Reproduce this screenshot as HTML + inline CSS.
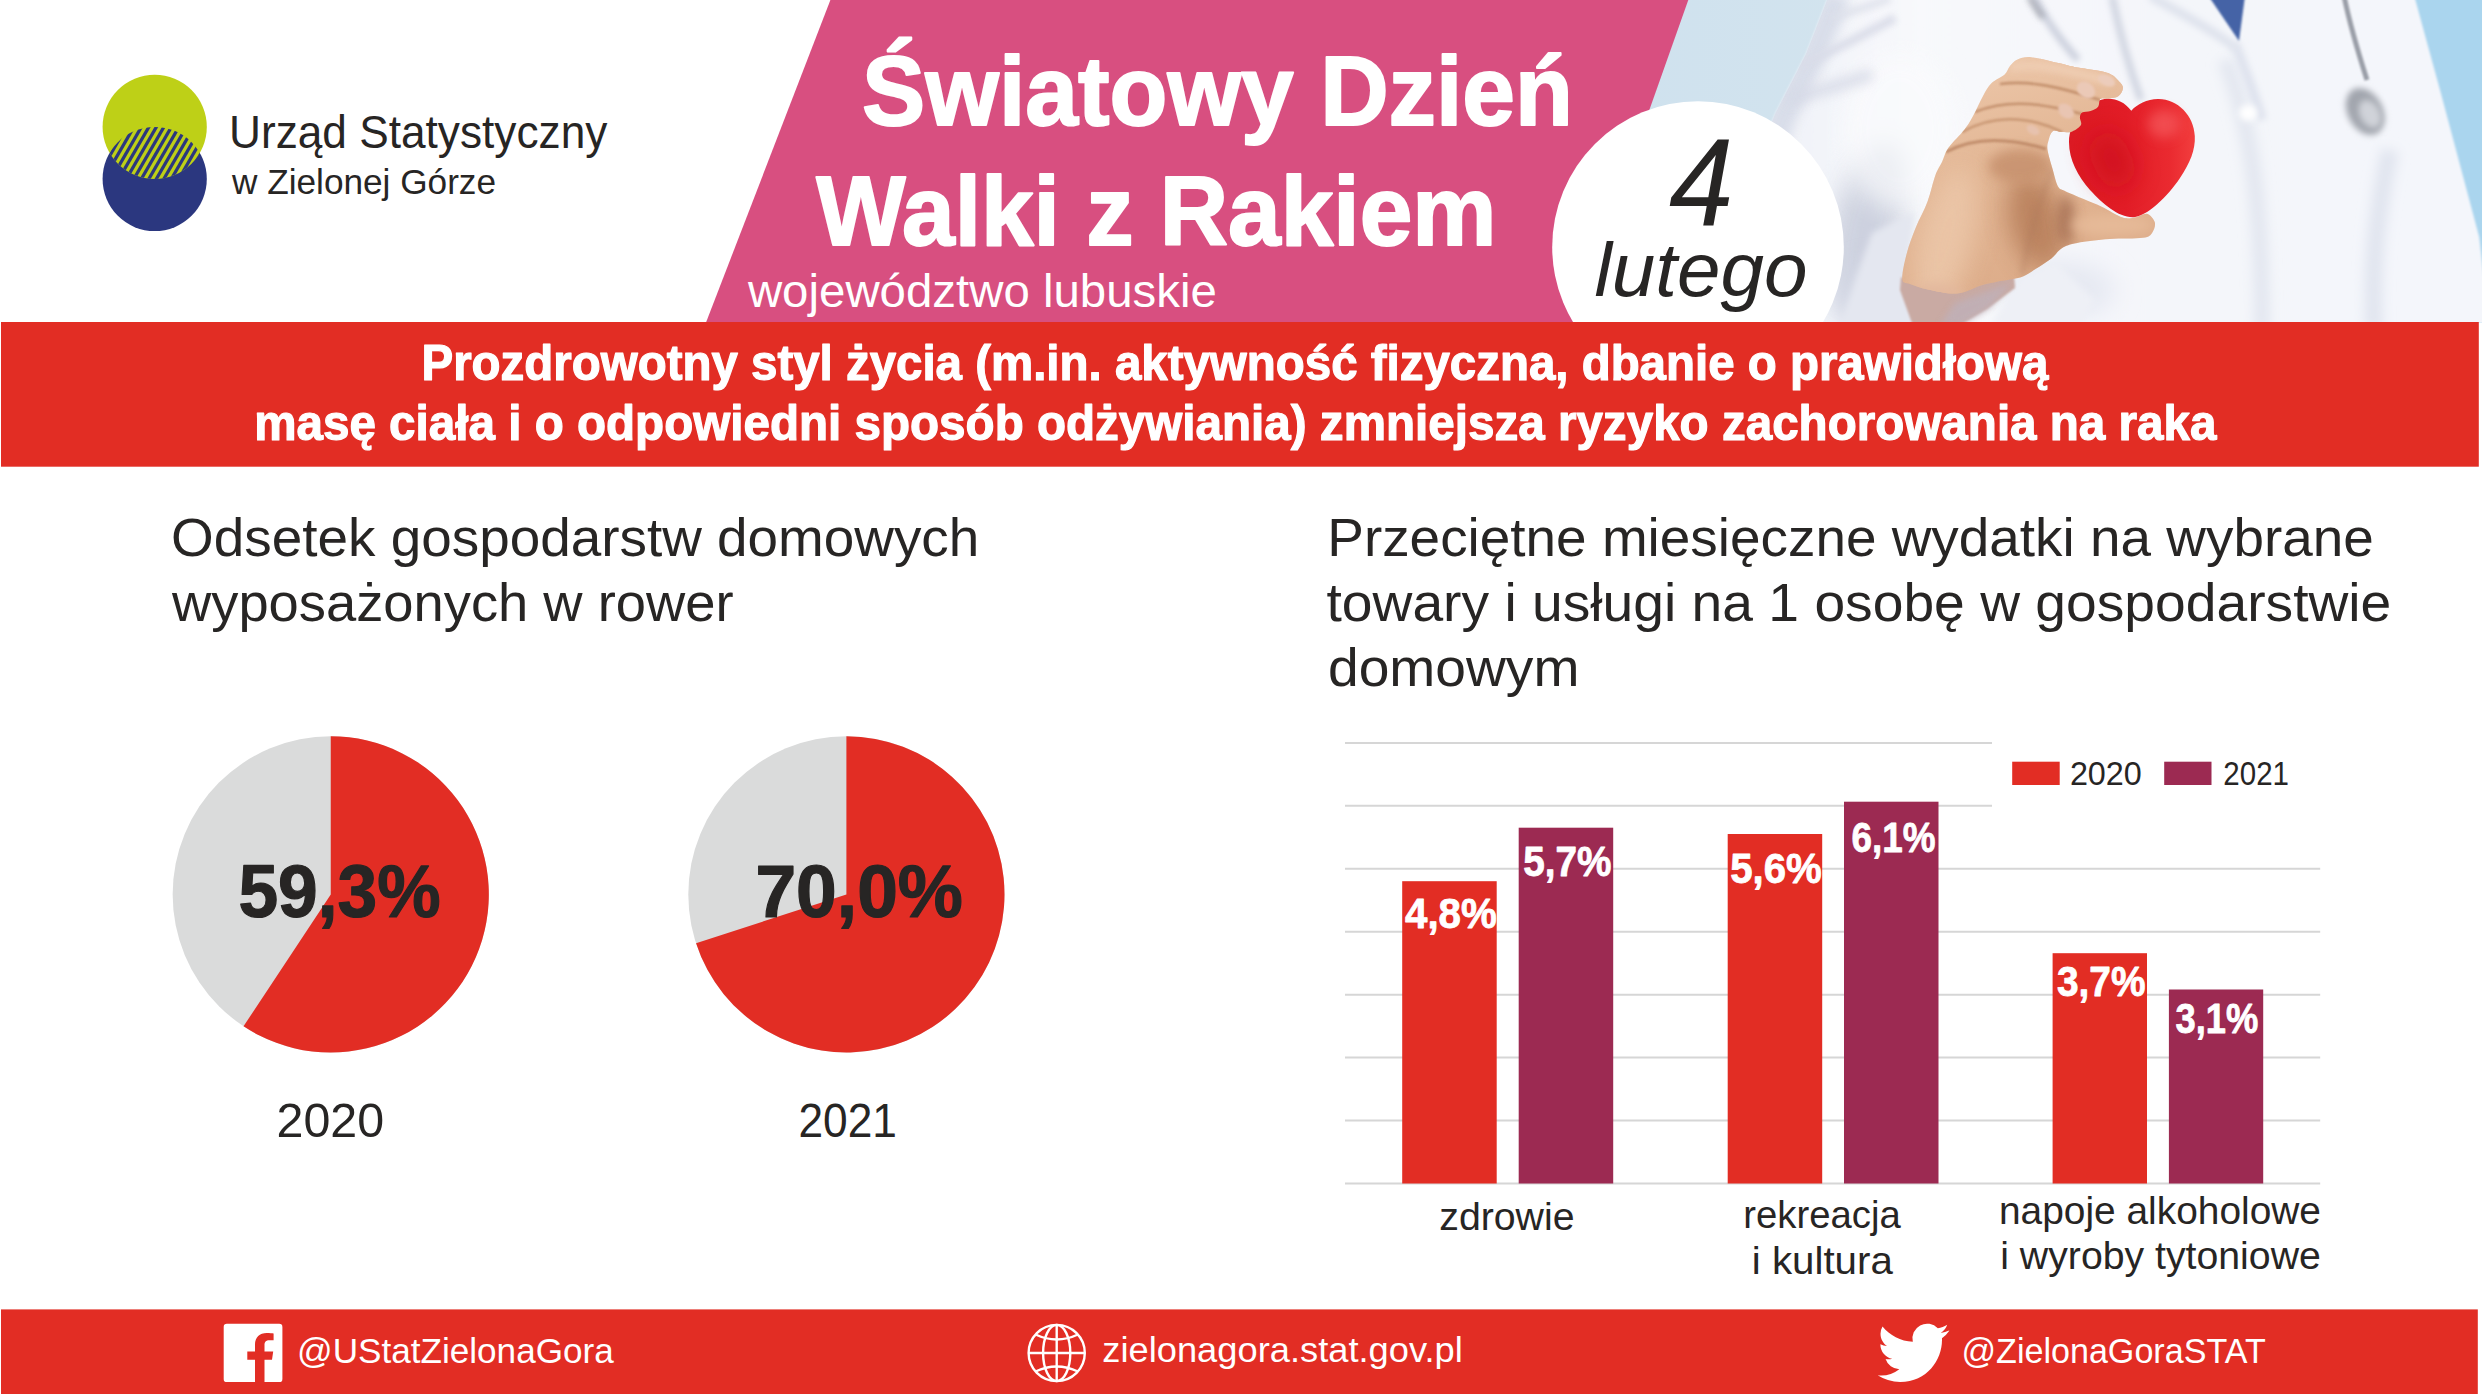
<!DOCTYPE html>
<html lang="pl">
<head>
<meta charset="utf-8">
<title>Światowy Dzień Walki z Rakiem – województwo lubuskie</title>
<style>
  html, body { margin: 0; padding: 0; background: #ffffff; }
  body { width: 2482px; height: 1394px; overflow: hidden; position: relative;
         font-family: "Liberation Sans", sans-serif; color: #272524; }
  #stage { position: absolute; left: 0; top: 0; width: 2482px; height: 1394px; display: block; }
  text { font-family: "Liberation Sans", sans-serif; }
  .b { font-weight: 700; }
  .tt { stroke: #ffffff; stroke-width: 2px; stroke-linejoin: round; }
  .t1 { stroke: #ffffff; stroke-width: 1.2px; stroke-linejoin: round; }
  .t08 { stroke: #ffffff; stroke-width: 0.8px; stroke-linejoin: round; }
  .td { stroke: #272524; stroke-width: 1.2px; stroke-linejoin: round; }
  .i { font-style: italic; }
  .w { fill: #ffffff; }
  .d { fill: #272524; }
</style>
</head>
<body>
<svg id="stage" width="2482" height="1394" viewBox="0 0 2482 1394">
  <defs>
    <clipPath id="hdrClip"><rect x="0" y="0" width="2482" height="322.5"/></clipPath>
    <clipPath id="lensClip"><circle cx="154.7" cy="126.9" r="52.1"/></clipPath>
    <clipPath id="lensClip2"><circle cx="154.7" cy="179" r="52.1"/></clipPath>
  </defs>

  <!-- ============ HEADER ============ -->
  <g id="header" clip-path="url(#hdrClip)">
    <!-- PHOTO-START -->
    <g id="photo">
      <defs>
        <linearGradient id="bgL" x1="1560" y1="0" x2="1900" y2="0" gradientUnits="userSpaceOnUse">
          <stop offset="0" stop-color="#cee1ee"/><stop offset="1" stop-color="#d3e4ee"/>
        </linearGradient>
        <linearGradient id="coatG" x1="1780" y1="0" x2="2480" y2="0" gradientUnits="userSpaceOnUse">
          <stop offset="0" stop-color="#f0f2f8"/><stop offset="0.2" stop-color="#f8f9fc"/>
          <stop offset="0.55" stop-color="#f4f6fa"/><stop offset="1" stop-color="#f4f6fb"/>
        </linearGradient>
        <linearGradient id="skinG" x1="1990" y1="60" x2="2060" y2="300" gradientUnits="userSpaceOnUse">
          <stop offset="0" stop-color="#ecc6a8"/><stop offset="0.45" stop-color="#e2b593"/><stop offset="1" stop-color="#dcab88"/>
        </linearGradient>
        <linearGradient id="heartG" x1="2069" y1="150" x2="2195" y2="150" gradientUnits="userSpaceOnUse">
          <stop offset="0" stop-color="#dc1a24"/><stop offset="0.45" stop-color="#e21d27"/><stop offset="0.8" stop-color="#ea2a30"/><stop offset="1" stop-color="#f23e3e"/>
        </linearGradient>
        <filter id="bl3" filterUnits="userSpaceOnUse" x="1500" y="-60" width="1060" height="460"><feGaussianBlur stdDeviation="3"/></filter>
        <filter id="bl6" filterUnits="userSpaceOnUse" x="1500" y="-60" width="1060" height="460"><feGaussianBlur stdDeviation="6"/></filter>
        <filter id="bl12" filterUnits="userSpaceOnUse" x="1500" y="-60" width="1060" height="460"><feGaussianBlur stdDeviation="12"/></filter>
        <filter id="bl1" filterUnits="userSpaceOnUse" x="1500" y="-60" width="1060" height="460"><feGaussianBlur stdDeviation="1.2"/></filter>
        <clipPath id="tipClip"><path d="M2040,50 L2135,50 L2135,100 L2104,101 L2101,109 L2092,114 L2084,116 L2084,124 L2076,133 L2040,135 Z"/></clipPath>
        <clipPath id="coatClip"><path d="M1829,-5 L1806,54 L1775,114 L1735,215 L1690,330 L2490,330 L2479.2,237 L2441.3,94.7 L2414,-5 Z"/></clipPath>
        <clipPath id="handClip"><path id="handPath" d="M2004.6,74.4 C2007.7,71.6 2007.8,68.5 2010.0,66.0 C2012.2,63.5 2013.9,60.9 2017.5,59.4 C2021.1,57.9 2024.6,56.6 2031.4,57.2 C2038.2,57.8 2051.1,61.5 2058.3,63.1 C2065.5,64.7 2067.3,65.6 2074.5,66.9 C2081.7,68.2 2095.2,69.9 2101.4,71.2 C2107.7,72.5 2109.3,73.6 2112.0,75.0 C2114.7,76.4 2115.7,77.8 2117.5,79.8 C2119.3,81.8 2122.7,84.6 2122.9,87.3 C2123.1,90.0 2121.1,94.0 2118.6,95.9 C2116.1,97.8 2111.1,98.0 2108.0,98.5 C2104.9,99.0 2102.0,97.4 2100.3,98.8 C2098.7,100.2 2099.7,104.7 2098.1,106.7 C2096.5,108.7 2093.3,110.0 2090.6,111.0 C2087.9,112.0 2083.8,111.5 2082.0,112.6 C2080.2,113.7 2080.1,115.4 2079.9,117.5 C2079.7,119.6 2082.2,122.7 2080.9,125.0 C2079.6,127.3 2075.5,130.2 2072.3,131.4 C2069.1,132.6 2064.8,132.1 2061.6,132.0 C2058.4,131.9 2055.2,129.7 2053.0,131.0 C2050.8,132.3 2049.6,136.8 2048.7,140.0 C2047.8,143.2 2046.9,145.1 2047.6,150.0 C2048.3,154.9 2051.0,163.4 2052.7,169.4 C2054.4,175.4 2056.0,182.7 2057.9,186.2 C2059.8,189.7 2059.7,188.3 2064.0,190.5 C2068.3,192.7 2077.4,196.4 2083.7,199.1 C2090.0,201.8 2095.3,203.7 2101.8,206.8 C2108.3,209.9 2117.0,215.8 2122.5,217.6 C2128.0,219.4 2130.9,218.1 2135.0,217.5 C2139.1,216.9 2143.7,213.0 2147.0,213.8 C2150.3,214.6 2153.9,219.2 2154.8,222.3 C2155.7,225.5 2154.1,230.1 2152.2,232.7 C2150.2,235.3 2150.2,236.7 2143.1,237.8 C2136.0,238.9 2120.6,238.2 2109.6,239.1 C2098.6,240.0 2085.3,241.5 2077.3,243.0 C2069.3,244.5 2066.1,245.6 2061.8,248.2 C2057.5,250.8 2055.7,255.1 2051.4,258.5 C2047.1,261.9 2040.6,265.8 2035.9,268.8 C2031.2,271.8 2026.9,274.9 2023.0,276.6 C2019.1,278.3 2017.2,278.2 2012.7,279.1 C2008.2,280.0 2001.3,280.9 1996.0,282.0 C1990.7,283.1 1987.5,283.6 1981.0,285.5 C1974.5,287.4 1965.8,292.8 1957.0,293.5 C1948.2,294.2 1935.8,291.1 1928.0,289.5 C1920.2,287.9 1914.3,285.7 1910.0,284.0 C1905.7,282.3 1902.8,284.2 1902.3,279.1 C1901.8,274.0 1904.5,261.9 1906.8,253.3 C1909.0,244.7 1912.3,236.1 1915.8,227.5 C1919.2,218.9 1924.3,210.3 1927.5,201.7 C1930.7,193.1 1932.8,182.5 1935.2,175.8 C1937.7,169.1 1940.0,166.3 1942.2,161.6 C1944.4,156.9 1944.8,153.0 1948.6,147.6 C1952.3,142.2 1960.6,134.7 1964.7,129.3 C1968.8,123.9 1970.4,120.9 1973.4,115.3 C1976.5,109.7 1980.0,101.3 1983.0,95.9 C1986.0,90.5 1988.0,86.6 1991.6,83.0 C1995.2,79.4 2001.5,77.2 2004.6,74.4 Z"/></clipPath>
      </defs>
      <!-- backdrop -->
      <rect x="1555" y="-2" width="930" height="330" fill="url(#bgL)"/>
      <rect x="2380" y="-2" width="110" height="330" fill="#aad5ee"/>
      <!-- doctor's coat -->
      <path d="M1829,-5 L1806,54 L1775,114 L1735,215 L1690,330 L2490,330 L2479.2,237 L2441.3,94.7 L2414,-5 Z" fill="url(#coatG)" filter="url(#bl1)"/>
      <g clip-path="url(#coatClip)">
        <!-- sleeve edge shadow -->
        <path d="M1838,-5 L1814,54 L1783,116 L1745,215 L1705,330" fill="none" stroke="#d5dae7" stroke-width="26" filter="url(#bl6)" opacity="0.9"/>
        <!-- shadow under the arm / near bubble -->
        <ellipse cx="1868" cy="225" rx="34" ry="85" fill="#c9cedc" filter="url(#bl12)" opacity="0.9" transform="rotate(14 1868 225)"/>
        <ellipse cx="1880" cy="300" rx="46" ry="36" fill="#d3d7e4" filter="url(#bl12)"/>
        <!-- sleeve highlights -->
        <ellipse cx="1900" cy="130" rx="60" ry="80" fill="#fafbfd" filter="url(#bl12)" opacity="0.7"/>
        <!-- sleeve folds -->
        <path d="M1800,66 C1830,52 1862,36 1895,18" fill="none" stroke="#d9dce8" stroke-width="9" filter="url(#bl3)" opacity="0.9"/>
        <path d="M1786,100 C1815,92 1845,84 1872,74" fill="none" stroke="#d6d9e6" stroke-width="11" filter="url(#bl6)" opacity="0.9"/>
        <path d="M1830,18 C1850,12 1872,6 1890,-2" fill="none" stroke="#dde0ea" stroke-width="8" filter="url(#bl3)" opacity="0.8"/>
        <!-- folds on body -->
        <path d="M2225,60 C2250,120 2262,200 2262,330" fill="none" stroke="#e3e7f0" stroke-width="16" filter="url(#bl6)"/>
        <path d="M2390,150 C2375,220 2372,270 2374,330" fill="none" stroke="#e1e5ef" stroke-width="18" filter="url(#bl6)"/>
        <path d="M2235,44 C2245,70 2255,95 2262,120" fill="none" stroke="#dfe3ee" stroke-width="10" filter="url(#bl3)"/>
        <ellipse cx="2060" cy="290" rx="55" ry="30" fill="#e6e9f2" filter="url(#bl12)"/>
        <!-- lapel / tube shadows -->
        <path d="M2034,-4 C2045,20 2062,42 2078,60" fill="none" stroke="#c9cedb" stroke-width="7" filter="url(#bl3)"/>
        <path d="M2029,-4 C2033,4 2038,11 2043,18" fill="none" stroke="#8f929b" stroke-width="5" filter="url(#bl3)" opacity="0.8"/>
        <path d="M2112,-4 C2120,35 2130,70 2141,100" fill="none" stroke="#cfd4e0" stroke-width="7" filter="url(#bl3)"/>
        <path d="M2150,-4 C2185,15 2215,32 2236,48" fill="none" stroke="#dfe3ed" stroke-width="9" filter="url(#bl3)"/>
        <!-- tie -->
        <path d="M2208.5,-4 L2245,-4 L2239,41 Z" fill="#4563a6" filter="url(#bl1)"/>
        <!-- stethoscope right tube + chest piece -->
        <path d="M2344,-4 C2350,25 2358,52 2367,80" fill="none" stroke="#9a9ea7" stroke-width="5" filter="url(#bl1)"/>
        <ellipse cx="2365" cy="111" rx="17.5" ry="25" fill="#a1a5ad" filter="url(#bl3)" transform="rotate(-28 2366 111)"/>
        <ellipse cx="2370" cy="114" rx="10" ry="15" fill="#d0d3d9" filter="url(#bl3)" transform="rotate(-28 2370 114)"/>
        <!-- buttons (very faint) -->
        <ellipse cx="2248" cy="113" rx="9" ry="8" fill="#ffffff" filter="url(#bl3)"/>
        <!-- cuff -->
        <path d="M1871.9,233 L1913.8,212 L1909,256 L1904.5,287 L1923,326 L1839,326 Z" fill="#e4e7f0" filter="url(#bl3)"/>
        <path d="M2021,277 L2055,262 L2095,300 L2080,326 L1990,326 Z" fill="#eef0f6" filter="url(#bl3)"/>
      </g>
      <!-- shaded inner cuff -->
      <path d="M1901,277 L1928,287 L1957,291 L1981,283 L2014,275 L2015,288 L1987,309 L1958,326 L1913,326 L1900,290 Z" fill="#c9aaa3" filter="url(#bl1)"/>
      <path d="M1955,303 L1986,292 L2012,283 L1990,308 L1962,325 L1940,325 Z" fill="#c0b0b8" filter="url(#bl3)" opacity="0.85"/>
      <!-- hand -->
      <g id="handArt">
      <use href="#handPath" fill="url(#skinG)"/>
      <g clip-path="url(#handClip)">
        <ellipse cx="1945" cy="240" rx="28" ry="75" fill="#ebc6a8" filter="url(#bl12)" opacity="0.9" transform="rotate(14 1945 240)"/>
        <ellipse cx="2036" cy="222" rx="27" ry="50" fill="#b9815d" filter="url(#bl12)" opacity="0.95" transform="rotate(-15 2036 222)"/>
        <ellipse cx="2020" cy="166" rx="32" ry="17" fill="#c8936f" filter="url(#bl6)" opacity="0.9"/>
        <ellipse cx="2066" cy="220" rx="8" ry="24" fill="#a06a50" filter="url(#bl6)" opacity="0.75"/>
        <ellipse cx="2112" cy="225" rx="42" ry="10" fill="#e6ba98" filter="url(#bl6)"/>
        <ellipse cx="1935" cy="300" rx="30" ry="16" fill="#e3b89d" filter="url(#bl6)"/>
        <path d="M2010,68 C2030,62 2060,68 2112,82" fill="none" stroke="#efceb4" stroke-width="9" filter="url(#bl3)" opacity="0.9"/>
        <!-- finger creases -->
        <path d="M2000,84 C2030,80 2060,87 2100,100" fill="none" stroke="#b9835f" stroke-width="2.6" filter="url(#bl1)" opacity="0.75"/>
        <path d="M1975,112 C2010,98 2045,104 2082,114" fill="none" stroke="#b9835f" stroke-width="2.6" filter="url(#bl1)" opacity="0.75"/>
        <path d="M1962,132 C1990,116 2025,114 2062,132" fill="none" stroke="#bd8863" stroke-width="2.6" filter="url(#bl1)" opacity="0.7"/>
        <path d="M1946,152 C1975,136 2010,138 2046,149" fill="none" stroke="#b27a58" stroke-width="3" filter="url(#bl1)" opacity="0.7"/>
        <path d="M2052,170 C2040,200 2030,235 2022,275" fill="none" stroke="#a8745a" stroke-width="3" filter="url(#bl3)" opacity="0.5"/>
        <!-- nails -->
        <ellipse cx="2106.5" cy="80.5" rx="9" ry="5" fill="#ecccbb" filter="url(#bl1)" transform="rotate(25 2106.5 80.5)"/>
        <ellipse cx="2086" cy="90" rx="10" ry="7.5" fill="#ebc9b7" filter="url(#bl1)" transform="rotate(38 2086 90)"/>
        <ellipse cx="2066" cy="111" rx="9" ry="6.5" fill="#e9c5b2" filter="url(#bl1)" transform="rotate(40 2066 111)"/>
        <ellipse cx="2033" cy="130" rx="7" ry="4.2" fill="#e7c2ae" filter="url(#bl1)" transform="rotate(30 2033 130)"/>
      </g>
      </g>
      <!-- heart -->
      <path d="M2131.3,110.7 C2124,101 2114,97.5 2104.5,99 C2088,102 2069,120 2069,142 C2069,160 2078,176 2090,190 C2103,204 2118,217 2132.5,217.3 C2147,217 2168,196 2180,178 C2190,163 2195.5,150 2194.8,136 C2194,115 2177,98.5 2158,98.9 C2147,99 2137,104 2131.3,110.7 Z" fill="url(#heartG)"/>
      <ellipse cx="2164" cy="124" rx="16" ry="14" fill="#f4575a" filter="url(#bl6)" opacity="0.75"/>
      <ellipse cx="2112" cy="160" rx="20" ry="30" fill="#cc0d1a" filter="url(#bl12)" opacity="0.7" transform="rotate(-25 2112 160)"/>
      <!-- fingertips in front of the heart -->
      <g clip-path="url(#tipClip)"><use href="#handArt"/></g>
    </g>
    <!-- PHOTO-END -->
    <!-- pink title panel -->
    <polygon points="830.4,0 1688.3,0 1574.1,322.5 706,322.5" fill="#d84f80"/>
    <!-- date bubble -->
    <circle cx="1698" cy="247" r="145.8" fill="#ffffff"/>
  </g>

  <!-- logo -->
  <g id="logo">
    <circle cx="154.7" cy="179" r="52.1" fill="#2b377f"/>
    <circle cx="154.7" cy="126.9" r="52.1" fill="#bed017"/>
    <g clip-path="url(#lensClip)"><g clip-path="url(#lensClip2)" stroke="#2b377f" stroke-width="3.25" fill="none">
      <line x1="107.90" y1="120" x2="69.80" y2="186"/>
      <line x1="115.40" y1="120" x2="77.30" y2="186"/>
      <line x1="122.90" y1="120" x2="84.80" y2="186"/>
      <line x1="130.40" y1="120" x2="92.30" y2="186"/>
      <line x1="137.90" y1="120" x2="99.80" y2="186"/>
      <line x1="145.40" y1="120" x2="107.30" y2="186"/>
      <line x1="152.90" y1="120" x2="114.80" y2="186"/>
      <line x1="160.40" y1="120" x2="122.30" y2="186"/>
      <line x1="167.90" y1="120" x2="129.80" y2="186"/>
      <line x1="175.40" y1="120" x2="137.30" y2="186"/>
      <line x1="182.90" y1="120" x2="144.80" y2="186"/>
      <line x1="190.40" y1="120" x2="152.30" y2="186"/>
      <line x1="197.90" y1="120" x2="159.80" y2="186"/>
      <line x1="205.40" y1="120" x2="167.30" y2="186"/>
      <line x1="212.90" y1="120" x2="174.80" y2="186"/>
      <line x1="220.40" y1="120" x2="182.30" y2="186"/>
      <line x1="227.90" y1="120" x2="189.80" y2="186"/>
      <line x1="235.40" y1="120" x2="197.30" y2="186"/>
      <line x1="242.90" y1="120" x2="204.80" y2="186"/>
      <line x1="250.40" y1="120" x2="212.30" y2="186"/>
    </g></g>
  </g>

  <!-- ============ RED BANNER ============ -->
  <rect x="1" y="322" width="2477.8" height="144.7" fill="#e22d24"/>

  <!-- ============ PIE CHARTS ============ -->
  <g id="pies">
    <circle cx="330.75" cy="894.4" r="158.1" fill="#dadbdb"/>
    <path d="M330.75,894.4 L330.75,736.30 A158.1,158.1 0 1 1 243.53,1026.27 Z" fill="#e22d24"/>
    <circle cx="846.4" cy="894.4" r="158.1" fill="#dadbdb"/>
    <path d="M846.4,894.4 L846.4,736.30 A158.1,158.1 0 1 1 696.04,943.26 Z" fill="#e22d24"/>
  </g>

  <!-- ============ BAR CHART ============ -->
  <g id="bars">
    <g stroke="#d6d6d6" stroke-width="1.9" fill="none">
      <line x1="1345" y1="743" x2="1992" y2="743"/>
      <line x1="1345" y1="805.8" x2="1992" y2="805.8"/>
      <line x1="1345" y1="868.7" x2="2320.2" y2="868.7"/>
      <line x1="1345" y1="931.7" x2="2320.2" y2="931.7"/>
      <line x1="1345" y1="994.8" x2="2320.2" y2="994.8"/>
      <line x1="1345" y1="1057.5" x2="2320.2" y2="1057.5"/>
      <line x1="1345" y1="1120.5" x2="2320.2" y2="1120.5"/>
      <line x1="1345" y1="1183.5" x2="2320.2" y2="1183.5"/>
    </g>
    <rect x="1402.2" y="881.2" width="94.5" height="302.3" fill="#e22d24"/>
    <rect x="1518.7" y="827.7" width="94.5" height="355.8" fill="#9c2a52"/>
    <rect x="1727.7" y="834"   width="94.5" height="349.5" fill="#e22d24"/>
    <rect x="1844"   y="801.7" width="94.5" height="381.8" fill="#9c2a52"/>
    <rect x="2052.6" y="953.2" width="94.4" height="230.3" fill="#e22d24"/>
    <rect x="2168.9" y="989.5" width="94.3" height="194"   fill="#9c2a52"/>
    <!-- legend -->
    <rect x="2012.2" y="761.7" width="47.5" height="23.3" fill="#e22d24"/>
    <rect x="2164.2" y="761.7" width="47.3" height="23.3" fill="#9c2a52"/>
  </g>

  <!-- ============ FOOTER ============ -->
  <rect x="1" y="1309.4" width="2476.8" height="84.6" fill="#e22d24"/>
  <g id="footer-icons">
    <!-- facebook -->
    <rect x="223.7" y="1323.7" width="58.7" height="58.4" rx="3.2" ry="3.2" fill="#ffffff"/>
    <path d="M255,1382.1 V1359.7 H247.3 V1351.5 H255 V1344.6 C255,1337.3 259.6,1333 266.8,1333 C269.6,1333 272.3,1333.3 273.6,1333.5 V1340.2 H269.6 C265.7,1340.2 264.5,1342.2 264.5,1344.9 V1351.5 H273.2 L272,1359.7 H264.5 V1382.1 Z" fill="#e22d24"/>
    <!-- globe -->
    <g fill="none" stroke="#ffffff" stroke-width="2.4">
      <circle cx="1056.7" cy="1353" r="28.1"/>
      <ellipse cx="1056.7" cy="1353" rx="13.6" ry="28.1"/>
      <line x1="1056.7" y1="1324.9" x2="1056.7" y2="1381.1"/>
      <line x1="1028.6" y1="1353" x2="1084.8" y2="1353"/>
      <path d="M1035.5,1334.5 Q1056.7,1344.5 1077.9,1334.5"/>
      <path d="M1035.5,1371.5 Q1056.7,1361.5 1077.9,1371.5"/>
    </g>
    <!-- twitter -->
    <path transform="translate(1877.6,1316.96) scale(2.9875)" fill="#ffffff" d="M23.953 4.57a10 10 0 01-2.825.775 4.958 4.958 0 002.163-2.723c-.951.555-2.005.959-3.127 1.184a4.92 4.92 0 00-8.384 4.482C7.69 8.095 4.067 6.13 1.64 3.162a4.822 4.822 0 00-.666 2.475c0 1.71.87 3.213 2.188 4.096a4.904 4.904 0 01-2.228-.616v.06a4.923 4.923 0 003.946 4.827 4.996 4.996 0 01-2.212.085 4.936 4.936 0 004.604 3.417 9.867 9.867 0 01-6.102 2.105c-.39 0-.779-.023-1.17-.067a13.995 13.995 0 007.557 2.209c9.053 0 13.998-7.496 13.998-13.985 0-.21 0-.42-.015-.63A9.935 9.935 0 0024 4.59z"/>
  </g>

  <!-- TEXT-START -->
  <text id="lg1" class="d" x="228.98" y="148.00" font-size="47" textLength="378.43" lengthAdjust="spacingAndGlyphs">Urząd Statystyczny</text>
  <text id="lg2" class="d" x="232.00" y="194.20" font-size="35" textLength="264.02" lengthAdjust="spacingAndGlyphs">w Zielonej Górze</text>
  <text id="t1" class="b w tt" x="862.06" y="125.00" font-size="98.5" textLength="710.81" lengthAdjust="spacingAndGlyphs">Światowy Dzień</text>
  <text id="t2" class="b w tt" x="816.19" y="245.00" font-size="98.5" textLength="680.26" lengthAdjust="spacingAndGlyphs">Walki z Rakiem</text>
  <text id="t3" class="w" x="747.90" y="307.00" font-size="46.9" textLength="469.01" lengthAdjust="spacingAndGlyphs">województwo lubuskie</text>
  <text id="d1" class="i d" x="1668.90" y="224.90" font-size="124.3" textLength="64.58" lengthAdjust="spacingAndGlyphs">4</text>
  <text id="d2" class="i d" x="1594.47" y="296.20" font-size="76.3" textLength="213.17" lengthAdjust="spacingAndGlyphs">lutego</text>
  <text id="bn1" class="b w t1" x="421.49" y="380.00" font-size="49.5" textLength="1626.81" lengthAdjust="spacingAndGlyphs">Prozdrowotny styl życia (m.in. aktywność fizyczna, dbanie o prawidłową</text>
  <text id="bn2" class="b w t1" x="254.20" y="439.80" font-size="49.5" textLength="1962.30" lengthAdjust="spacingAndGlyphs">masę ciała i o odpowiedni sposób odżywiania) zmniejsza ryzyko zachorowania na raka</text>
  <text id="h1a" class="d" x="171.07" y="555.80" font-size="54.5" textLength="808.26" lengthAdjust="spacingAndGlyphs">Odsetek gospodarstw domowych</text>
  <text id="h1b" class="d" x="172.00" y="621.10" font-size="54.5" textLength="561.50" lengthAdjust="spacingAndGlyphs">wyposażonych w rower</text>
  <text id="h2a" class="d" x="1327.27" y="555.80" font-size="54.5" textLength="1046.55" lengthAdjust="spacingAndGlyphs">Przeciętne miesięczne wydatki na wybrane</text>
  <text id="h2b" class="d" x="1326.50" y="621.10" font-size="54.5" textLength="1064.81" lengthAdjust="spacingAndGlyphs">towary i usługi na 1 osobę w gospodarstwie</text>
  <text id="h2c" class="d" x="1327.95" y="686.40" font-size="54.5" textLength="251.44" lengthAdjust="spacingAndGlyphs">domowym</text>
  <text id="p1" class="b d td" x="238.45" y="917.30" font-size="74.5" textLength="202.20" lengthAdjust="spacingAndGlyphs">59,3%</text>
  <text id="p2" class="b d td" x="755.42" y="917.30" font-size="74.5" textLength="207.52" lengthAdjust="spacingAndGlyphs">70,0%</text>
  <text id="y1" class="d" x="276.56" y="1137.30" font-size="49" textLength="107.63" lengthAdjust="spacingAndGlyphs">2020</text>
  <text id="y2" class="d" x="798.38" y="1137.30" font-size="49" textLength="98.52" lengthAdjust="spacingAndGlyphs">2021</text>
  <text id="b1" class="b w t08" x="1404.98" y="928.40" font-size="42.5" textLength="91.85" lengthAdjust="spacingAndGlyphs">4,8%</text>
  <text id="b2" class="b w t08" x="1523.27" y="876.10" font-size="42.5" textLength="88.28" lengthAdjust="spacingAndGlyphs">5,7%</text>
  <text id="b3" class="b w t08" x="1730.27" y="882.50" font-size="42.5" textLength="91.57" lengthAdjust="spacingAndGlyphs">5,6%</text>
  <text id="b4" class="b w t08" x="1851.45" y="851.70" font-size="42.5" textLength="84.10" lengthAdjust="spacingAndGlyphs">6,1%</text>
  <text id="b5" class="b w t08" x="2056.98" y="996.40" font-size="42.5" textLength="88.55" lengthAdjust="spacingAndGlyphs">3,7%</text>
  <text id="b6" class="b w t08" x="2175.48" y="1033.00" font-size="42.5" textLength="82.74" lengthAdjust="spacingAndGlyphs">3,1%</text>
  <text id="l1" class="d" x="2069.88" y="785.00" font-size="32.6" textLength="71.99" lengthAdjust="spacingAndGlyphs">2020</text>
  <text id="l2" class="d" x="2223.33" y="785.00" font-size="32.6" textLength="65.65" lengthAdjust="spacingAndGlyphs">2021</text>
  <text id="a1" class="d" x="1439.26" y="1230.00" font-size="38.2" textLength="135.29" lengthAdjust="spacingAndGlyphs">zdrowie</text>
  <text id="a2" class="d" x="1743.27" y="1228.00" font-size="38.2" textLength="157.54" lengthAdjust="spacingAndGlyphs">rekreacja</text>
  <text id="a3" class="d" x="1751.75" y="1274.20" font-size="38.2" textLength="141.06" lengthAdjust="spacingAndGlyphs">i kultura</text>
  <text id="a4" class="d" x="1998.97" y="1223.80" font-size="38.2" textLength="321.96" lengthAdjust="spacingAndGlyphs">napoje alkoholowe</text>
  <text id="a5" class="d" x="2000.26" y="1269.00" font-size="38.2" textLength="320.57" lengthAdjust="spacingAndGlyphs">i wyroby tytoniowe</text>
  <text id="f1" class="w" x="296.97" y="1362.60" font-size="35.7" textLength="316.83" lengthAdjust="spacingAndGlyphs">@UStatZielonaGora</text>
  <text id="f2" class="w" x="1102.28" y="1362.40" font-size="35.7" textLength="360.44" lengthAdjust="spacingAndGlyphs">zielonagora.stat.gov.pl</text>
  <text id="f3" class="w" x="1961.47" y="1362.60" font-size="35.7" textLength="304.24" lengthAdjust="spacingAndGlyphs">@ZielonaGoraSTAT</text>
  <!-- TEXT-END -->
</svg>
</body>
</html>
